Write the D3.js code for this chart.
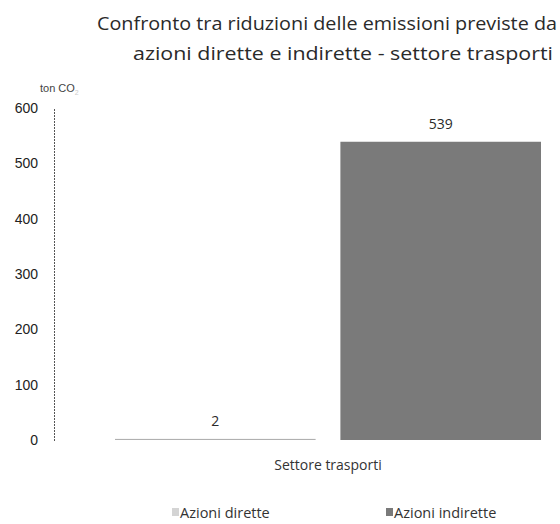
<!DOCTYPE html>
<html>
<head>
<meta charset="utf-8">
<script src="https://cdn.jsdelivr.net/npm/d3@7"></script>
<style>
  body { margin: 0; background: #fff; }
  svg { display: block; }
</style>
</head>
<body>
<svg class="chart" width="560" height="524"></svg>
<script>
const WIDTH = 560;
const HEIGHT = 524;

const titleLines = ['Confronto tra riduzioni delle emissioni previste da', 'azioni dirette e indirette - settore trasporti'];
const category = 'Settore trasporti';
const seriesNames = ['Azioni dirette', 'Azioni indirette'];
const seriesValues = [2, 539];
const seriesColors = ['#d4d4d4', '#7a7a7a'];
const yTicks = [0, 100, 200, 300, 400, 500, 600];

const svg = d3.select('.chart');

// scales
const x = d3.scaleBand().domain(seriesNames).range([115, 541]).paddingInner(0.11).paddingOuter(0);
const y = d3.scaleLinear().domain([0, 600]).range([440, 108]);

// title (two lines, squeezed to the original widths)
const titleX = [97, 133];
const titleW = [460, 420];
svg.append('g')
  .selectAll('text')
  .data(titleLines)
  .enter()
  .append('text')
  .attr('x', (d, i) => titleX[i])
  .attr('y', (d, i) => 30 + i * 30)
  .attr('textLength', (d, i) => titleW[i])
  .attr('lengthAdjust', 'spacingAndGlyphs')
  .style('font-family', '"Open Sans", sans-serif')
  .style('font-size', '19px')
  .style('fill', '#2a2a2a')
  .text((d) => d);

// unit label
const unit = svg.append('text')
  .attr('x', 40)
  .attr('y', 92)
  .style('font-family', '"Liberation Sans Narrow", "Liberation Sans", Arial, sans-serif')
  .style('font-size', '11px')
  .style('fill', '#444')
  .text('ton CO');
unit.append('tspan')
  .attr('dy', 3)
  .style('font-size', '7px')
  .style('fill', '#ccc')
  .text('2');

// y axis
const yAxis = d3.axisLeft(y).tickValues(yTicks).tickSize(0).tickPadding(16);
const gy = svg.append('g').attr('transform', 'translate(54,0)').call(yAxis);
gy.select('.domain')
  .attr('stroke', '#555')
  .attr('stroke-dasharray', '2,1')
  .attr('shape-rendering', 'crispEdges');
gy.selectAll('text')
  .style('font-family', '"Liberation Sans", Arial, sans-serif')
  .style('font-size', '14px')
  .style('fill', '#222');

// bars
const bars = svg.append('g')
  .selectAll('rect')
  .data(seriesValues)
  .enter();

bars.append('rect')
  .attr('x', (d, i) => x(seriesNames[i]))
  .attr('y', (d) => Math.min(y(d), y(0) - 1))
  .attr('width', x.bandwidth())
  .attr('height', (d) => Math.max(y(0) - y(d), 1))
  .style('fill', (d, i) => (i === 0 ? '#b0b0b0' : seriesColors[i]));

// value labels
bars.append('text')
  .attr('x', (d, i) => x(seriesNames[i]) + x.bandwidth() / 2)
  .attr('y', (d) => y(d) - 13)
  .attr('text-anchor', 'middle')
  .style('font-family', '"Open Sans", sans-serif')
  .style('font-size', '14px')
  .style('fill', '#2a2a2a')
  .text((d) => d);

// category label
svg.append('text')
  .attr('x', 328)
  .attr('y', 470)
  .attr('text-anchor', 'middle')
  .style('font-family', '"Open Sans", sans-serif')
  .style('font-size', '14px')
  .style('fill', '#333')
  .text(category);

// legend
const legendX = [172, 386];
const legend = svg.append('g')
  .selectAll('g')
  .data(seriesNames)
  .enter()
  .append('g')
  .attr('transform', (d, i) => `translate(${legendX[i]}, 518)`);

legend.append('rect')
  .attr('x', 0)
  .attr('y', -10)
  .attr('width', 7)
  .attr('height', 8)
  .style('fill', (d, i) => seriesColors[i]);

legend.append('text')
  .attr('x', 8)
  .attr('y', 0)
  .style('font-family', '"Open Sans", sans-serif')
  .style('font-size', '14.5px')
  .style('fill', '#333')
  .text((d) => d);
</script>
</body>
</html>
